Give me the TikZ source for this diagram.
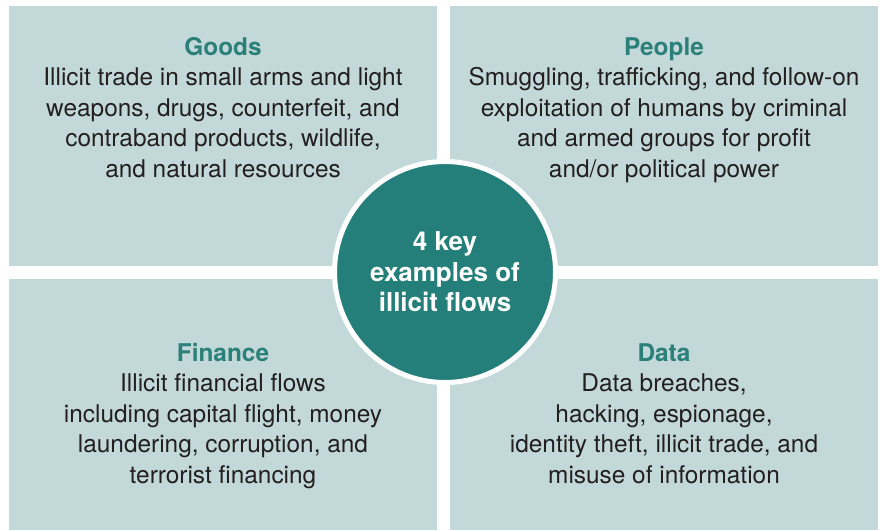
\documentclass[tikz,border=0pt]{standalone}
\usepackage{fontspec}
\setmainfont{TeX Gyre Heros}
\usepackage{tikz}
\usetikzlibrary{shapes}
\definecolor{panelbg}{HTML}{C3D8D8}
\definecolor{tealdark}{HTML}{247F7A}
\definecolor{tealtext}{HTML}{2B8079}
\definecolor{bodytext}{HTML}{231F20}
\tikzstyle{panel}=[rectangle,fill=panelbg,draw=none,inner sep=0pt,minimum width=428pt]
\tikzstyle{blurb}=[anchor=north,align=center,text=bodytext,font=\fontsize{24.4}{30.6}\selectfont,inner sep=0pt]
\tikzstyle{hub}=[circle,fill=tealdark,draw=white,line width=5pt,minimum size=221pt,inner sep=0pt,
  align=center,text=white,font=\fontsize{26}{30.6}\selectfont\bfseries]
\newcommand{\heading}[1]{\strut\textcolor{tealtext}{\textbf{#1}}}

\begin{document}
\begin{tikzpicture}[x=1pt,y=-1pt]

    \useasboundingbox (0,0) rectangle (880,530);

     % the four panels
     \foreach \x/\y/\h/\name in {223/136/260/goods, 664/136/260/people, 223/404.5/251/finance, 664/404.5/251/data}
        \node[panel, minimum height=\h pt] (\name) at (\x,\y) {};

    \node[blurb] (goodstext) at (goods.center |- 0,33.5) {\heading{Goods}\\Illicit trade in small arms and light\\weapons, drugs, counterfeit, and\\contraband products, wildlife,\\and natural resources};

    \node[blurb] (peopletext) at (people.center |- 0,33.5) {\heading{People}\\Smuggling, trafficking, and follow-on\\exploitation of humans by criminal\\and armed groups for profit\\and/or political power};

    \node[blurb] (financetext) at (finance.center |- 0,339.5) {\heading{Finance}\\Illicit financial flows\\including capital flight, money\\laundering, corruption, and\\terrorist financing};

    \node[blurb] (datatext) at (data.center |- 0,339.5) {\heading{Data}\\Data breaches,\\hacking, espionage,\\identity theft, illicit trade, and\\misuse of information};

    \node[hub] (flows) at (445,272) {4 key\\examples of\\illicit flows};

\end{tikzpicture}
\end{document}
